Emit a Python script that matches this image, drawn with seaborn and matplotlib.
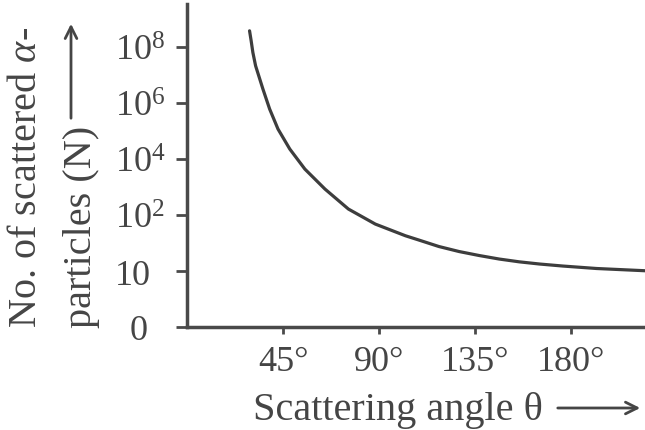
import matplotlib
matplotlib.use("Agg")
import matplotlib.pyplot as plt
import matplotlib.transforms as mtransforms
import seaborn as sns
import pandas as pd

# Data (x: scattering angle in degrees,
# y: position on the schematic N axis, in tick-step units)
angle = [29.31, 30.06, 30.86, 32.14, 35.58, 38.73, 42.64, 48.16, 55.23, 64.65,
         75.63, 88.21, 102.35, 108.6, 118.0, 127.5, 136.9, 146.3, 155.7, 165.2,
         176.1, 191.9, 214.6]
level = [5.291, 5.113, 4.905, 4.666, 4.250, 3.893, 3.536, 3.179, 2.821, 2.464,
         2.107, 1.839, 1.630, 1.554, 1.438, 1.348, 1.277, 1.214, 1.164, 1.125,
         1.089, 1.045, 1.005]
y_tick_pos = [0, 1, 2, 3, 4, 5]
y_tick_labels = ["0", "10", "$10^2$", "$10^4$", "$10^6$", "$10^8$"]
x_tick_pos = [45, 90, 135, 180]
x_tick_labels = ["45°", "90°", "135°", "180°"]

sns.set_theme(style="ticks")
plt.rcParams["font.family"] = ["Liberation Serif", "DejaVu Serif"]
plt.rcParams["mathtext.fontset"] = "custom"
plt.rcParams["mathtext.rm"] = "Liberation Serif"
plt.rcParams["mathtext.it"] = "Liberation Serif:italic"

ink = "#454545"
W, H = 645, 431
fig = plt.figure(figsize=(W / 100, H / 100), dpi=100)
ax = fig.add_axes([187 / W, (H - 328) / H, 1 - 187 / W, (328 - 5) / H])

df = pd.DataFrame({"angle": angle, "level": level})
sns.lineplot(data=df, x="angle", y="level", ax=ax, color="#3d3d3d", linewidth=2.3)

ax.set_xlim(0, 214.6)
ax.set_ylim(0, 5.77)
ax.set_xticks(x_tick_pos)
ax.set_xticklabels(x_tick_labels)
ax.set_yticks(y_tick_pos)
ax.set_yticklabels(y_tick_labels)
ax.set_xlabel("")
ax.set_ylabel("")
sns.despine(ax=ax)
for s in ["left", "bottom"]:
    ax.spines[s].set_color("#4a4a4a")
    ax.spines[s].set_linewidth(2.5)
ax.tick_params(axis="both", colors="#4a4a4a", labelcolor=ink, labelsize=26,
               width=2.0, direction="out")
ax.tick_params(axis="y", length=8, pad=44)
ax.tick_params(axis="x", length=5, pad=8)
for lab in ax.get_yticklabels():
    lab.set_horizontalalignment("left")
zero_lab = ax.get_yticklabels()[0]
zero_lab.set_transform(zero_lab.get_transform() +
                       mtransforms.ScaledTranslation(15 / 100, 0, fig.dpi_scale_trans))

# axis titles
fig.text(27 / W, (H - 328) / H, r"No. of scattered $\it{\alpha}$-", rotation=90,
         ha="center", va="bottom", fontsize=29, color=ink)
fig.text(81 / W, (H - 328) / H, "particles (N)", rotation=90,
         ha="center", va="bottom", fontsize=29, color=ink)
fig.text(253 / W, (H - 420) / H, "Scattering angle θ", ha="left", va="baseline",
         fontsize=29, color=ink)

arrow = dict(arrowstyle="->,head_length=0.7,head_width=0.35", color=ink, lw=2.0)
ax.annotate("", xy=(71 / W, (H - 22) / H), xytext=(71 / W, (H - 122) / H),
            xycoords="figure fraction", textcoords="figure fraction", arrowprops=arrow)
ax.annotate("", xy=(643 / W, (H - 409) / H), xytext=(555 / W, (H - 409) / H),
            xycoords="figure fraction", textcoords="figure fraction", arrowprops=arrow)

fig.savefig("out.png", dpi=100)
